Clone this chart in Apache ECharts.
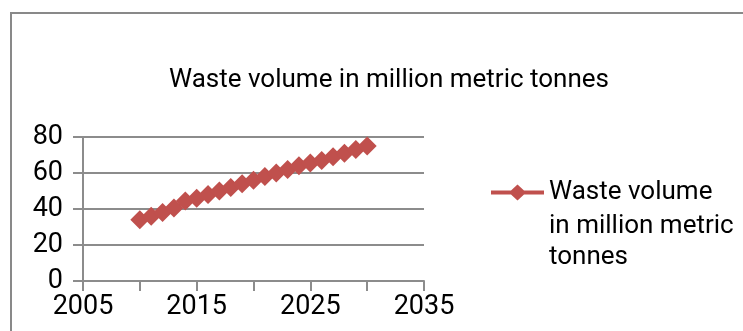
<!DOCTYPE html>
<html>
<head>
<meta charset="utf-8">
<script src="https://cdn.jsdelivr.net/npm/echarts@6/dist/echarts.min.js"></script>
<style>
html, body { margin: 0; padding: 0; background: #fff; }
#main { width: 743px; height: 331px; }
</style>
</head>
<body>
<div id="main"></div>
<script>
var years = [2010, 2011, 2012, 2013, 2014, 2015, 2016, 2017, 2018, 2019, 2020,
             2021, 2022, 2023, 2024, 2025, 2026, 2027, 2028, 2029, 2030];
var waste = [34, 36, 38, 40.5, 44.5, 46, 48, 50, 52, 54, 56,
             58, 60, 62, 64, 65.5, 67, 69, 71, 73, 75];
var shownYears = [2005, 2015, 2025, 2035];
var seriesName = 'Waste volume in million metric tonnes';
var legendLines = ['Waste volume', 'in million metric', 'tonnes'];

var dom = document.getElementById('main');
var myChart = echarts.init(dom);

var points = [];
for (var i = 0; i < years.length; i++) {
    points.push([years[i], waste[i]]);
}

// legend icon: thick line with a small diamond in the middle
var legendIcon = 'path://M0,6 L20,6 L26.5,0 L33,6 L53,6 L53,10 L33,10 L26.5,16 L20,10 L0,10 Z';

var legendFont = { fontFamily: 'Roboto', fontSize: 26, color: '#000' };

// legend wraps like Excel: first line next to the icon, the rest below it
var extraLines = [];
for (var j = 1; j < legendLines.length; j++) {
    extraLines.push({
        type: 'text',
        left: 549,
        top: 213 + (j - 1) * 31.5,
        silent: true,
        style: {
            text: legendLines[j],
            fontFamily: legendFont.fontFamily,
            fontSize: legendFont.fontSize,
            fill: legendFont.color
        }
    });
}

var option = {
    animation: false,
    backgroundColor: '#fff',
    textStyle: { fontFamily: 'Roboto' },
    title: {
        text: seriesName,
        left: 384,
        top: 62,
        textAlign: 'center',
        textStyle: {
            fontFamily: 'Roboto',
            fontWeight: 'normal',
            fontSize: 26,
            color: '#000'
        }
    },
    grid: { left: 83, right: 319, top: 137, bottom: 50 },
    legend: {
        left: 491,
        top: 177,
        padding: 0,
        orient: 'vertical',
        itemWidth: 53,
        itemHeight: 16,
        data: [{ name: seriesName, icon: legendIcon }],
        formatter: function () { return legendLines[0]; },
        textStyle: { fontFamily: 'Roboto', fontSize: 26, color: '#000', lineHeight: 31 }
    },
    graphic: [
        {
            type: 'rect',
            shape: { x: 11, y: 13, width: 900, height: 500 },
            style: { fill: 'none', stroke: '#898989', lineWidth: 2 },
            silent: true
        }
    ].concat(extraLines),
    xAxis: {
        type: 'value',
        min: 2005,
        max: 2035,
        interval: 5,
        axisLine: { show: true, lineStyle: { color: '#8c8c8c', width: 2 } },
        axisTick: { show: true, length: 10, lineStyle: { color: '#8c8c8c', width: 2 } },
        splitLine: { show: false },
        axisLabel: {
            fontFamily: 'Roboto',
            fontSize: 27,
            color: '#000',
            margin: 13,
            formatter: function (v) { return shownYears.indexOf(v) >= 0 ? String(v) : ''; }
        }
    },
    yAxis: {
        type: 'value',
        min: 0,
        max: 80,
        interval: 20,
        axisLine: { show: true, lineStyle: { color: '#8c8c8c', width: 2 } },
        axisTick: { show: true, length: 10, lineStyle: { color: '#8c8c8c', width: 2 } },
        splitLine: { show: true, lineStyle: { color: '#8c8c8c', width: 2 } },
        axisLabel: { fontFamily: 'Roboto', fontSize: 27, color: '#000', margin: 20 }
    },
    series: [
        {
            name: seriesName,
            type: 'line',
            data: points,
            symbol: 'diamond',
            symbolSize: 19,
            showAllSymbol: true,
            lineStyle: { color: '#C0504D', width: 3 },
            itemStyle: { color: '#C0504D' }
        }
    ]
};

if (option && typeof option === 'object') {
    myChart.setOption(option, true);
}
</script>
</body>
</html>
